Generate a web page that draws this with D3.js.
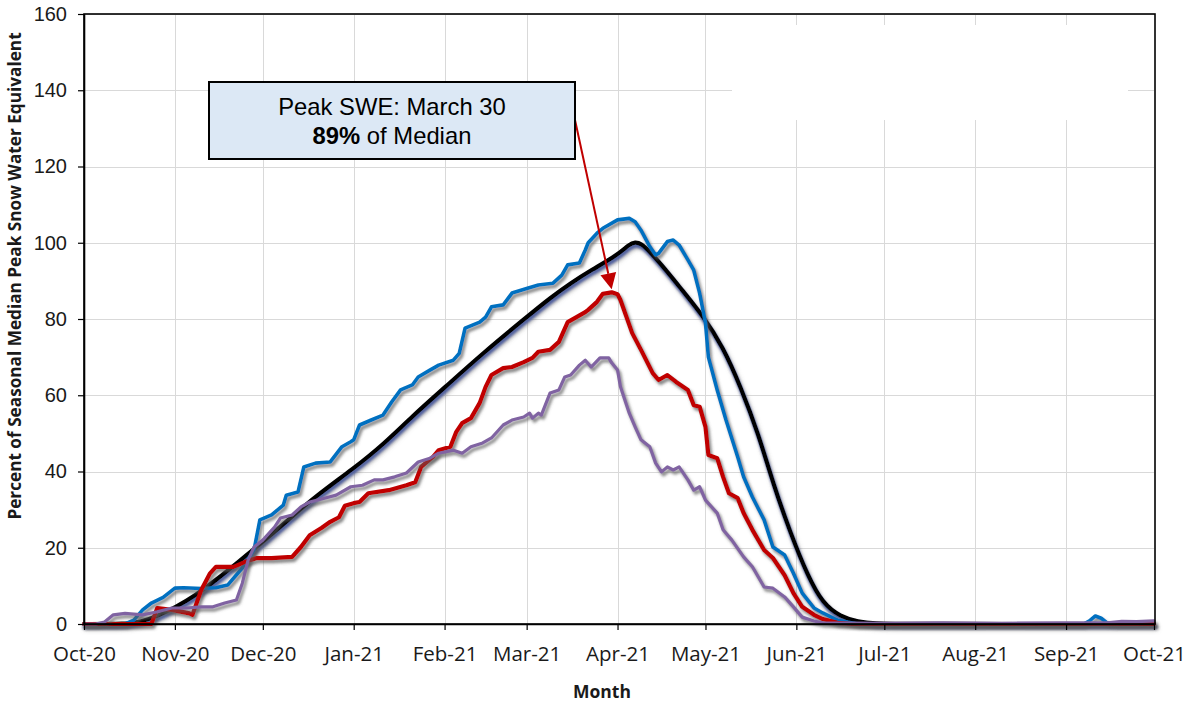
<!DOCTYPE html>
<html>
<head>
<meta charset="utf-8">
<script src="https://cdn.jsdelivr.net/npm/d3@7"></script>
<style>
  body { margin: 0; background: #fff; }
  svg { display: block; }
</style>
</head>
<body>
<svg id="chart" width="1186" height="703"></svg>
<script>
// Snow water equivalent as percent of the seasonal median peak, water year 2021.

const monthTickLabels = ["Oct-20", "Nov-20", "Dec-20", "Jan-21", "Feb-21", "Mar-21", "Apr-21",
  "May-21", "Jun-21", "Jul-21", "Aug-21", "Sep-21", "Oct-21"];
const yTickValues = [0, 20, 40, 60, 80, 100, 120, 140, 160];

// Median (black)
const medianSeries = [
  ["2020-10-01", 0], ["2020-10-15", 0], ["2020-10-20", 0.5], ["2020-10-26", 2], ["2020-11-01", 4.3],
  ["2020-11-08", 7.5], ["2020-11-15", 11.5], ["2020-11-23", 16.5], ["2020-12-01", 21.5], ["2020-12-10", 27.5],
  ["2020-12-19", 33.5], ["2021-01-01", 40.8], ["2021-01-11", 47], ["2021-01-21", 54.5], ["2021-02-01", 62],
  ["2021-02-14", 71], ["2021-03-01", 80.5], ["2021-03-09", 85.5], ["2021-03-16", 89.4], ["2021-03-23", 92.8],
  ["2021-04-01", 96.8], ["2021-04-05", 99.6], ["2021-04-07", 100.2], ["2021-04-09", 99.8], ["2021-04-12", 97.7],
  ["2021-04-18", 92.4], ["2021-04-23", 87.6], ["2021-04-30", 81], ["2021-05-07", 72.7], ["2021-05-13", 62.2],
  ["2021-05-19", 50], ["2021-05-24", 37], ["2021-05-30", 23.8], ["2021-06-05", 12.4], ["2021-06-10", 5.4],
  ["2021-06-16", 1.9], ["2021-06-22", 0.6], ["2021-06-28", 0.1], ["2021-07-05", 0], ["2021-10-01", 0]
];

// Wettest year (blue)
const wetSeries = [
  ["2020-10-01", 0], ["2020-10-15", 0], ["2020-10-18", 1], ["2020-10-21", 3.7], ["2020-10-24", 5.5],
  ["2020-10-28", 7], ["2020-11-01", 9.4], ["2020-11-04", 9.5], ["2020-11-10", 9.3], ["2020-11-15", 9.5],
  ["2020-11-19", 10.2], ["2020-11-24", 14.7], ["2020-11-28", 19.4], ["2020-11-30", 27.3], ["2020-12-04", 28.6],
  ["2020-12-08", 31.2], ["2020-12-09", 33.8], ["2020-12-13", 34.6], ["2020-12-15", 41.2], ["2020-12-19", 42.2],
  ["2020-12-24", 42.5], ["2020-12-28", 46.5], ["2020-12-31", 47.8], ["2021-01-01", 48.3], ["2021-01-03", 52.2],
  ["2021-01-07", 53.5], ["2021-01-11", 54.8], ["2021-01-14", 58.3], ["2021-01-17", 61.4], ["2021-01-21", 62.7],
  ["2021-01-23", 64.8], ["2021-01-27", 66.6], ["2021-01-30", 67.9], ["2021-02-04", 69.2], ["2021-02-06", 71],
  ["2021-02-08", 77.6], ["2021-02-13", 79.2], ["2021-02-15", 80.5], ["2021-02-17", 83.2], ["2021-02-21", 83.7],
  ["2021-02-24", 86.8], ["2021-03-01", 88], ["2021-03-05", 88.9], ["2021-03-10", 89.4], ["2021-03-13", 91.5],
  ["2021-03-15", 94.2], ["2021-03-19", 94.7], ["2021-03-21", 98.1], ["2021-03-22", 100], ["2021-03-25", 102.5],
  ["2021-03-27", 103.8], ["2021-04-01", 106], ["2021-04-05", 106.4], ["2021-04-07", 105.5], ["2021-04-09", 103.3],
  ["2021-04-12", 99], ["2021-04-14", 96.8], ["2021-04-15", 97.2], ["2021-04-18", 100.3], ["2021-04-20", 100.7],
  ["2021-04-22", 99.4], ["2021-04-25", 95.5], ["2021-04-27", 92.8], ["2021-04-29", 86.8], ["2021-05-01", 79],
  ["2021-05-02", 70], ["2021-05-05", 61.4], ["2021-05-08", 53.5], ["2021-05-12", 43.8], ["2021-05-14", 38.6],
  ["2021-05-17", 33.3], ["2021-05-21", 27.3], ["2021-05-24", 20.2], ["2021-05-28", 18.1], ["2021-05-31", 13.3],
  ["2021-06-03", 8.1], ["2021-06-07", 4.2], ["2021-06-10", 2.9], ["2021-06-15", 1], ["2021-06-22", 0],
  ["2021-09-07", 0], ["2021-09-09", 0.8], ["2021-09-11", 2.1], ["2021-09-13", 1.5], ["2021-09-15", 0.3],
  ["2021-09-18", 0], ["2021-10-01", 0]
];

// Current water year 2021 (red)
const currentSeries = [
  ["2020-10-01", 0], ["2020-10-24", 0], ["2020-10-26", 4.2], ["2020-10-31", 3.7], ["2020-11-06", 2.8],
  ["2020-11-07", 2.4], ["2020-11-10", 8.9], ["2020-11-13", 13.3], ["2020-11-15", 15], ["2020-11-21", 15],
  ["2020-11-25", 16.3], ["2020-11-29", 17.3], ["2020-12-04", 17.3], ["2020-12-11", 17.6], ["2020-12-14", 20.2],
  ["2020-12-17", 23.3], ["2020-12-21", 25.2], ["2020-12-24", 26.8], ["2020-12-27", 28], ["2020-12-29", 31],
  ["2021-01-01", 31.7], ["2021-01-03", 32], ["2021-01-06", 34.3], ["2021-01-13", 35.1], ["2021-01-19", 36.4],
  ["2021-01-22", 37.2], ["2021-01-24", 41.2], ["2021-01-28", 43.8], ["2021-01-30", 45.6], ["2021-02-03", 46.5],
  ["2021-02-05", 50.4], ["2021-02-07", 52.7], ["2021-02-10", 54], ["2021-02-13", 58], ["2021-02-15", 62.2],
  ["2021-02-17", 65.3], ["2021-02-21", 67.1], ["2021-02-24", 67.4], ["2021-02-28", 68.7], ["2021-03-03", 69.8],
  ["2021-03-05", 71.4], ["2021-03-09", 71.9], ["2021-03-12", 74], ["2021-03-15", 79.2], ["2021-03-18", 80.5],
  ["2021-03-21", 81.8], ["2021-03-22", 82.4], ["2021-03-25", 84.5], ["2021-03-27", 86.6], ["2021-03-30", 87],
  ["2021-04-01", 86.5], ["2021-04-02", 85], ["2021-04-06", 76.3], ["2021-04-09", 71.9], ["2021-04-13", 65.8],
  ["2021-04-15", 64], ["2021-04-18", 65.3], ["2021-04-21", 63.5], ["2021-04-25", 61.4], ["2021-04-27", 57.4],
  ["2021-04-29", 57], ["2021-05-01", 51.7], ["2021-05-02", 44.3], ["2021-05-05", 43.5], ["2021-05-07", 38.6],
  ["2021-05-09", 34.3], ["2021-05-12", 33], ["2021-05-14", 29.1], ["2021-05-17", 24.7], ["2021-05-21", 19.4],
  ["2021-05-24", 17.3], ["2021-05-28", 12.8], ["2021-05-31", 8.1], ["2021-06-03", 4.5], ["2021-06-07", 2.4],
  ["2021-06-10", 1.3], ["2021-06-15", 0.3], ["2021-06-20", 0], ["2021-10-01", 0]
];

// Driest year (purple)
const drySeries = [
  ["2020-10-01", 0], ["2020-10-05", 0], ["2020-10-08", 0.5], ["2020-10-11", 2.4], ["2020-10-15", 2.8],
  ["2020-10-21", 2.4], ["2020-10-26", 3.2], ["2020-10-31", 4.2], ["2020-11-05", 4.2], ["2020-11-10", 4.5],
  ["2020-11-14", 4.5], ["2020-11-18", 5.5], ["2020-11-22", 6.3], ["2020-11-24", 10.7], ["2020-11-26", 16.8],
  ["2020-11-28", 20.2], ["2020-12-01", 22], ["2020-12-05", 25.4], ["2020-12-07", 27.8], ["2020-12-11", 28.6],
  ["2020-12-14", 30.7], ["2020-12-17", 32], ["2020-12-22", 33], ["2020-12-26", 33.8], ["2020-12-31", 36],
  ["2021-01-04", 36.4], ["2021-01-08", 37.8], ["2021-01-11", 37.8], ["2021-01-15", 38.6], ["2021-01-19", 39.6],
  ["2021-01-23", 42.5], ["2021-01-27", 43.5], ["2021-01-30", 44.8], ["2021-02-04", 45.6], ["2021-02-07", 44.8],
  ["2021-02-10", 46.5], ["2021-02-14", 47.5], ["2021-02-17", 48.8], ["2021-02-21", 52.2], ["2021-02-24", 53.5],
  ["2021-02-28", 54.3], ["2021-03-02", 55.3], ["2021-03-03", 54], ["2021-03-05", 55.3], ["2021-03-06", 54.8],
  ["2021-03-09", 60.6], ["2021-03-12", 61.4], ["2021-03-14", 64.8], ["2021-03-16", 65.3], ["2021-03-19", 67.9],
  ["2021-03-21", 69.2], ["2021-03-23", 67.4], ["2021-03-26", 69.8], ["2021-03-29", 69.8], ["2021-03-30", 68.5],
  ["2021-04-01", 66.6], ["2021-04-02", 62.2], ["2021-04-05", 55.3], ["2021-04-07", 51.7], ["2021-04-09", 48.3],
  ["2021-04-12", 46.5], ["2021-04-14", 42.2], ["2021-04-16", 39.9], ["2021-04-18", 41.2], ["2021-04-20", 40.4],
  ["2021-04-22", 41.2], ["2021-04-25", 37.8], ["2021-04-27", 35.1], ["2021-04-29", 36], ["2021-05-01", 32.5],
  ["2021-05-05", 29.1], ["2021-05-07", 24.7], ["2021-05-10", 22], ["2021-05-14", 17.6], ["2021-05-17", 15],
  ["2021-05-21", 9.7], ["2021-05-24", 9.4], ["2021-05-28", 7.1], ["2021-05-31", 4.5], ["2021-06-03", 1.8],
  ["2021-06-07", 0.8], ["2021-06-10", 0.3], ["2021-07-01", 0.2], ["2021-07-20", 0.3], ["2021-08-10", 0.2],
  ["2021-08-30", 0.3], ["2021-09-15", 0.3], ["2021-09-20", 0.7], ["2021-09-25", 0.6], ["2021-10-01", 0.8]
];

const annotationLines = ["Peak SWE: March 30", "89%", " of Median"];

// ---------------------------------------------------------------------------
const parse = d3.timeParse("%Y-%m-%d");
const toPoints = s => s.map(([d, v]) => ({ date: parse(d), value: v }));

const W = 1186, H = 703;
const plot = { left: 84, right: 1154, top: 14, bottom: 624 };

const svg = d3.select("#chart");

const x = d3.scaleTime()
  .domain([parse("2020-10-01"), parse("2021-10-01")])
  .range([plot.left, plot.right]);
const y = d3.scaleLinear().domain([0, 160]).range([plot.bottom, plot.top]);

const monthDates = d3.timeMonth.range(parse("2020-10-01"), d3.timeDay.offset(parse("2021-10-01"), 1));

// Shadow filters
const defs = svg.append("defs");
function shadow(id, layers) {
  const f = defs.append("filter").attr("id", id)
    .attr("filterUnits", "userSpaceOnUse")
    .attr("x", 0).attr("y", 0).attr("width", W).attr("height", H);
  const names = [];
  layers.forEach((l, i) => {
    f.append("feGaussianBlur").attr("in", "SourceAlpha").attr("stdDeviation", l.blur).attr("result", "b" + i);
    f.append("feOffset").attr("in", "b" + i).attr("dx", l.dx).attr("dy", l.dy).attr("result", "o" + i);
    f.append("feFlood").attr("flood-color", l.color).attr("flood-opacity", l.opacity).attr("result", "c" + i);
    f.append("feComposite").attr("in", "c" + i).attr("in2", "o" + i).attr("operator", "in").attr("result", "s" + i);
    names.push("s" + i);
  });
  names.push("SourceGraphic");
  const m = f.append("feMerge");
  names.forEach(n => m.append("feMergeNode").attr("in", n));
}
shadow("shGrey", [{ color: "#5a5a5a", opacity: 0.75, dx: 2, dy: 3, blur: 1.8 }]);
shadow("shMedian", [
  { color: "#6a6a6a", opacity: 0.6, dx: 2, dy: 4, blur: 2.2 },
  { color: "#4a5b9c", opacity: 0.95, dx: 0.5, dy: 2.6, blur: 0.9 }
]);

// Gridlines
const grid = svg.append("g").attr("stroke", "#d9d9d9").attr("stroke-width", 1);
grid.selectAll("line.h").data(yTickValues.filter(v => v > 0)).join("line")
  .attr("x1", plot.left).attr("x2", plot.right)
  .attr("y1", d => Math.round(y(d)) + 0.5).attr("y2", d => Math.round(y(d)) + 0.5);
grid.selectAll("line.v").data(monthDates.slice(1, -1)).join("line")
  .attr("x1", d => Math.round(x(d)) + 0.5).attr("x2", d => Math.round(x(d)) + 0.5)
  .attr("y1", plot.top).attr("y2", plot.bottom);

// Empty legend area in the upper right covers the grid
svg.append("rect").attr("x", 732).attr("y", 25).attr("width", 396).attr("height", 95).attr("fill", "#fff");

// Series
const line = d3.line().x(d => x(d.date)).y(d => y(d.value));
const series = [
  { data: medianSeries, color: "#000000", width: 4.2, filter: "shMedian", curve: d3.curveBasis },
  { data: wetSeries, color: "#0070c0", width: 3.6, filter: "shGrey", curve: d3.curveLinear },
  { data: currentSeries, color: "#c00000", width: 4.2, filter: "shGrey", curve: d3.curveLinear },
  { data: drySeries, color: "#8064a2", width: 3.2, filter: "shGrey", curve: d3.curveLinear }
];
svg.append("g").selectAll("path").data(series).join("path")
  .attr("d", s => line.curve(s.curve)(toPoints(s.data)))
  .attr("fill", "none")
  .attr("stroke", s => s.color)
  .attr("stroke-width", s => s.width)
  .attr("stroke-linejoin", "round")
  .attr("stroke-linecap", "round")
  .attr("filter", s => `url(#${s.filter})`);

// Frame
svg.append("rect")
  .attr("x", plot.left).attr("y", plot.top)
  .attr("width", plot.right - plot.left + 1).attr("height", plot.bottom - plot.top)
  .attr("fill", "none").attr("stroke", "#000").attr("stroke-width", 1.6);

// Axes
const xAxis = d3.axisBottom(x).tickValues(monthDates).tickSizeOuter(0).tickSizeInner(6)
  .tickFormat((d, i) => monthTickLabels[i]);
const gx = svg.append("g").attr("transform", `translate(0,${plot.bottom})`).call(xAxis);
gx.select(".domain").attr("stroke", "#000").attr("stroke-width", 1.6);
gx.selectAll(".tick line").attr("stroke", "#000").attr("stroke-width", 1.2);
gx.selectAll(".tick text")
  .attr("y", 0).attr("dy", 0).attr("transform", "translate(0,37)")
  .attr("fill", "#1a1a1a")
  .style("font-family", "'Open Sans', 'Noto Sans', sans-serif").style("font-size", "20.5px");

const yAxis = d3.axisLeft(y).tickValues(yTickValues).tickSizeOuter(0).tickSizeInner(6).tickPadding(11);
const gy = svg.append("g").attr("transform", `translate(${plot.left},0)`).call(yAxis);
gy.select(".domain").attr("stroke", "#000").attr("stroke-width", 1.6);
gy.selectAll(".tick line").attr("stroke", "#000").attr("stroke-width", 1.2);
gy.selectAll(".tick text")
  .attr("fill", "#1a1a1a")
  .style("font-family", "'Liberation Sans', Arial, sans-serif").style("font-size", "20px");

// Axis titles
svg.append("text")
  .attr("transform", `translate(21,${(plot.top + plot.bottom) / 2 - 43}) rotate(-90)`)
  .attr("text-anchor", "middle")
  .style("font-family", "'Open Sans', 'Noto Sans', sans-serif").style("font-weight", "bold").style("font-size", "17.2px")
  .attr("fill", "#1a1a1a")
  .text("Percent of Seasonal Median Peak Snow Water Equivalent");

svg.append("text")
  .attr("x", 602).attr("y", 698)
  .attr("text-anchor", "middle")
  .style("font-family", "'Open Sans', 'Noto Sans', sans-serif").style("font-weight", "bold").style("font-size", "17.5px")
  .attr("fill", "#1a1a1a")
  .text("Month");

// Peak annotation
const current = toPoints(currentSeries);
const peak = current.reduce((a, b) => (b.value > a.value ? b : a));
const box = { x: 209, y: 82, w: 366, h: 77 };
const start = { x: box.x + box.w, y: 120 };
const tip = { x: x(peak.date), y: y(peak.value) - 3 };
const ang = Math.atan2(tip.y - start.y, tip.x - start.x);
const headLen = 16, headHalf = 8;
const base = { x: tip.x - headLen * Math.cos(ang), y: tip.y - headLen * Math.sin(ang) };

svg.append("line")
  .attr("x1", start.x).attr("y1", start.y).attr("x2", base.x).attr("y2", base.y)
  .attr("stroke", "#c00000").attr("stroke-width", 2);
svg.append("path")
  .attr("d", d3.line()([
    [tip.x, tip.y],
    [base.x + headHalf * Math.sin(ang), base.y - headHalf * Math.cos(ang)],
    [base.x - headHalf * Math.sin(ang), base.y + headHalf * Math.cos(ang)]
  ]) + "Z")
  .attr("fill", "#c00000");

svg.append("rect")
  .attr("x", box.x).attr("y", box.y).attr("width", box.w).attr("height", box.h)
  .attr("fill", "#dce8f5").attr("stroke", "#000").attr("stroke-width", 2);

svg.append("text")
  .attr("x", box.x + box.w / 2).attr("y", 115)
  .attr("text-anchor", "middle")
  .style("font-family", "'Liberation Sans', Arial, sans-serif").style("font-size", "23.8px")
  .attr("fill", "#000")
  .text(annotationLines[0]);
const t2 = svg.append("text")
  .attr("x", box.x + box.w / 2).attr("y", 144)
  .attr("text-anchor", "middle")
  .style("font-family", "'Liberation Sans', Arial, sans-serif").style("font-size", "23.8px")
  .attr("fill", "#000");
t2.append("tspan").style("font-weight", "bold").text(annotationLines[1]);
t2.append("tspan").text(annotationLines[2]);
</script>
</body>
</html>
